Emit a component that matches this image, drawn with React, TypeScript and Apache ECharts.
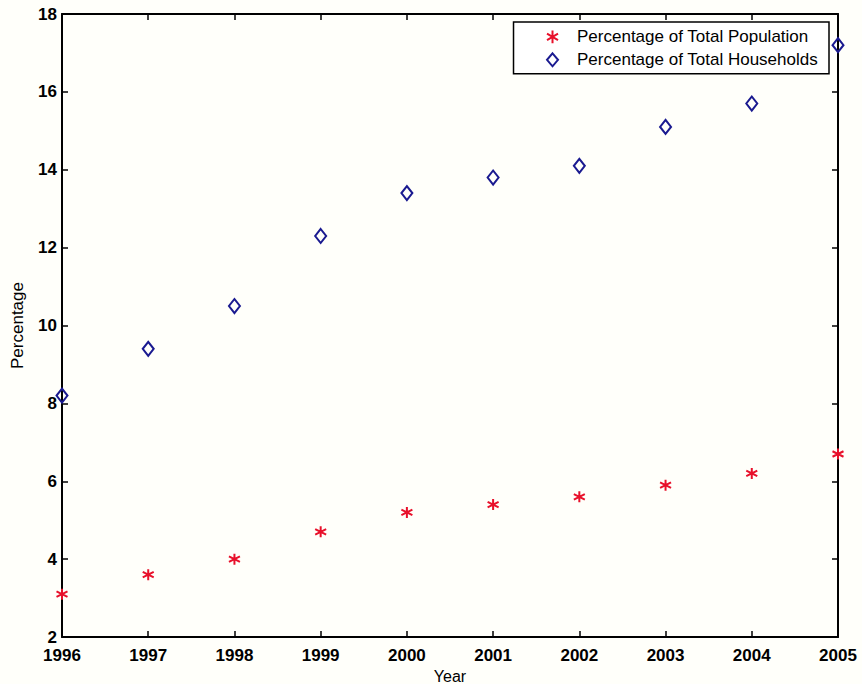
import React, { useEffect, useRef } from "react";
import * as echarts from "echarts";

const years = [1996, 1997, 1998, 1999, 2000, 2001, 2002, 2003, 2004, 2005];
const population = [3.1, 3.6, 4.0, 4.7, 5.2, 5.4, 5.6, 5.9, 6.2, 6.7];
const households = [8.2, 9.4, 10.5, 12.3, 13.4, 13.8, 14.1, 15.1, 15.7, 17.2];
const seriesNames = ["Percentage of Total Population", "Percentage of Total Households"];

const FONT = "'Liberation Sans', Arial, Helvetica, sans-serif";
const STAR = "path://M5,0L5,10M0.7,2.5L9.3,7.5M0.7,7.5L9.3,2.5";

export default function App() {
  const ref = useRef<HTMLDivElement>(null);
  useEffect(() => {
    const chart = echarts.init(ref.current!, null, { renderer: "svg" });
    const axisCommon = {
      type: "value" as const,
      axisLine: { show: true, lineStyle: { color: "#000", width: 2 } },
      axisTick: { show: true, inside: true, length: 6, lineStyle: { color: "#000", width: 1.5 } },
      splitLine: { show: false },
    };
    chart.setOption({
      animation: false,
      backgroundColor: "#fffffa",
      grid: { left: 62, right: 24, top: 14, bottom: 47, containLabel: false, outerBoundsMode: "none" },
      legend: {
        right: 33,
        top: 22,
        orient: "vertical",
        data: [
          { name: seriesNames[0], icon: STAR, itemStyle: { color: "none", borderColor: "#e8102a", borderWidth: 2 } },
          { name: seriesNames[1], icon: "diamond", itemStyle: { color: "none", borderColor: "#1a1a90", borderWidth: 2 } },
        ],
        itemWidth: 11,
        itemHeight: 13,
        itemGap: 5,
        padding: [6, 11, 5, 31],
        borderColor: "#000",
        borderWidth: 1.5,
        backgroundColor: "#fff",
        textStyle: { fontFamily: FONT, fontSize: 17, color: "#000", padding: [0, 0, 0, 14] },
      },
      xAxis: [
        {
          ...axisCommon,
          position: "bottom",
          min: 1996,
          max: 2005,
          interval: 1,
          name: "Year",
          nameLocation: "middle",
          nameGap: 28,
          nameTextStyle: { fontFamily: FONT, fontSize: 16, color: "#000" },
          axisLabel: {
            fontFamily: FONT, fontSize: 17, fontWeight: "bold", color: "#000", margin: 10,
            formatter: (v: number) => String(v),
          },
        },
        {
          ...axisCommon,
          position: "top",
          min: 1996,
          max: 2005,
          interval: 1,
          axisLabel: { show: false },
        },
      ],
      yAxis: [
        {
          ...axisCommon,
          position: "left",
          min: 2,
          max: 18,
          interval: 2,
          name: "Percentage",
          nameLocation: "middle",
          nameGap: 36,
          nameTextStyle: { fontFamily: FONT, fontSize: 17, color: "#000" },
          axisLabel: { fontFamily: FONT, fontSize: 17, fontWeight: "bold", color: "#000", margin: 5 },
        },
        {
          ...axisCommon,
          position: "right",
          min: 2,
          max: 18,
          interval: 2,
          axisLabel: { show: false },
        },
      ],
      series: [
        {
          name: seriesNames[0],
          type: "scatter",
          symbol: STAR,
          symbolSize: 11,
          data: years.map((y, i) => [y, population[i]]),
          itemStyle: { color: "none", borderColor: "#e8102a", borderWidth: 2, opacity: 1 },
        },
        {
          name: seriesNames[1],
          type: "scatter",
          symbol: "diamond",
          symbolSize: [11, 14],
          data: years.map((y, i) => [y, households[i]]),
          itemStyle: { color: "none", borderColor: "#1a1a90", borderWidth: 2, opacity: 1 },
        },
      ],
    });
    return () => chart.dispose();
  }, []);
  return <div ref={ref} style={{ width: 862, height: 684, position: "absolute", left: 0, top: 0 }} />;
}
